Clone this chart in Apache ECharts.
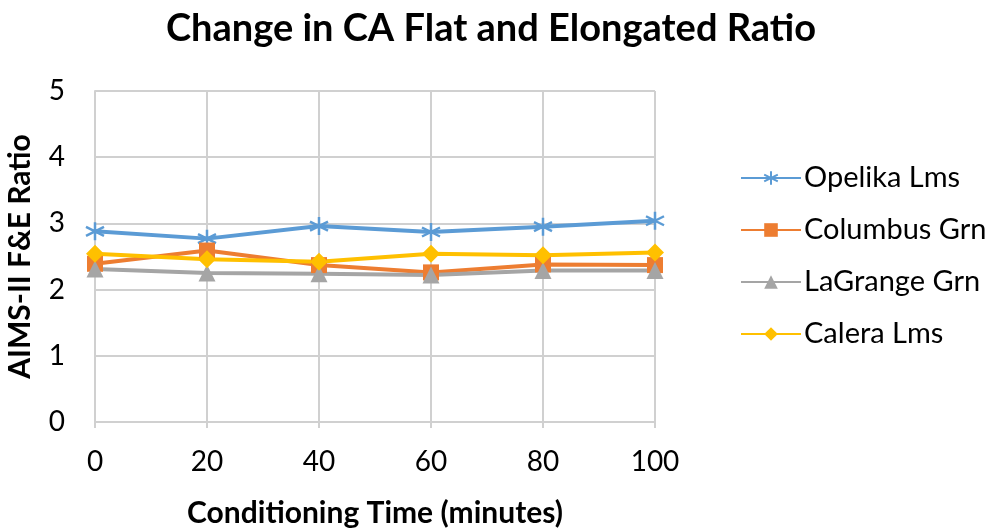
<!DOCTYPE html>
<html>
<head>
<meta charset="utf-8">
<script src="https://cdn.jsdelivr.net/npm/echarts@6/dist/echarts.min.js"></script>
<style>
  html, body { margin: 0; padding: 0; background: #fff; }
  #chart { width: 990px; height: 529px; }
</style>
</head>
<body>
<div id="chart"></div>
<script>
// Conditioning times (minutes)
const times = [0, 20, 40, 60, 80, 100];

// AIMS-II flat & elongated ratio per source
const opelikaLms = [2.88, 2.77, 2.96, 2.87, 2.95, 3.04];
const columbusGrn = [2.39, 2.59, 2.37, 2.26, 2.38, 2.37];
const lagrangeGrn = [2.31, 2.25, 2.24, 2.22, 2.29, 2.29];
const caleraLms = [2.54, 2.46, 2.42, 2.54, 2.52, 2.56];

const yTicks = [0, 1, 2, 3, 4, 5];

const FONT = 'Lato, "Open Sans", sans-serif';
const asterisk = 'path://M0,-10L0,10M-8.66,-5L8.66,5M-8.66,5L8.66,-5';

function pairs(vals) {
  return times.map((t, i) => [t, vals[i]]);
}

function lineSeries(name, vals, color, symbol, size, extra) {
  return Object.assign({
    name: name,
    type: 'line',
    data: pairs(vals),
    symbol: symbol,
    symbolSize: size,
    lineStyle: { color: color, width: 4 },
    itemStyle: { color: color },
    emphasis: { disabled: true },
    z: 3
  }, extra || {});
}

const chart = echarts.init(document.getElementById('chart'));
chart.setOption({
  animation: false,
  title: {
    text: 'Change in CA Flat and Elongated Ratio',
    left: 486,
    top: 5,
    textAlign: 'center',
    textStyle: { fontFamily: FONT, fontWeight: 'bold', fontSize: 38, color: '#000' }
  },
  grid: {
    left: 95, right: 335, top: 91, bottom: 107,
    containLabel: false,
    outerBoundsMode: 'none'
  },
  legend: {
    orient: 'vertical',
    left: 740,
    top: 163,
    padding: 0,
    itemWidth: 60,
    itemHeight: 17,
    itemGap: 22,
    textStyle: { fontFamily: FONT, fontSize: 29, lineHeight: 30, color: '#000', padding: [0, 0, 0, -2] },
    data: ['Opelika Lms', 'Columbus Grn', 'LaGrange Grn', 'Calera Lms']
  },
  xAxis: {
    type: 'value',
    min: 0,
    max: 100,
    interval: 20,
    name: 'Conditioning Time (minutes)',
    nameLocation: 'middle',
    nameGap: 76,
    nameTextStyle: { fontFamily: FONT, fontWeight: 'bold', fontSize: 30, color: '#000' },
    axisLine: { show: true, lineStyle: { color: '#d0d0d0', width: 2 } },
    axisTick: { show: true, length: 6, lineStyle: { color: '#d0d0d0', width: 2 } },
    axisLabel: { fontFamily: FONT, fontSize: 28, color: '#000', margin: 26 },
    splitLine: { show: true, lineStyle: { color: '#d0d0d0', width: 2 } }
  },
  yAxis: {
    type: 'value',
    min: yTicks[0],
    max: yTicks[yTicks.length - 1],
    interval: 1,
    name: 'AIMS-II F&E Ratio',
    nameLocation: 'middle',
    nameGap: 60,
    nameTextStyle: { fontFamily: FONT, fontWeight: 'bold', fontSize: 30, color: '#000' },
    axisLine: { show: true, lineStyle: { color: '#d0d0d0', width: 2 } },
    axisTick: { show: false },
    axisLabel: { fontFamily: FONT, fontSize: 28, color: '#000', margin: 30 },
    splitLine: { show: true, lineStyle: { color: '#d0d0d0', width: 2 } }
  },
  series: [
    lineSeries('Opelika Lms', opelikaLms, '#5b9bd5', asterisk, 18, {
      itemStyle: { color: 'none', borderColor: '#5b9bd5', borderWidth: 2.5 }
    }),
    lineSeries('Columbus Grn', columbusGrn, '#ed7d31', 'rect', 16),
    lineSeries('LaGrange Grn', lagrangeGrn, '#a5a5a5', 'triangle', 17),
    lineSeries('Calera Lms', caleraLms, '#ffc000', 'diamond', 18)
  ]
});
</script>
</body>
</html>
